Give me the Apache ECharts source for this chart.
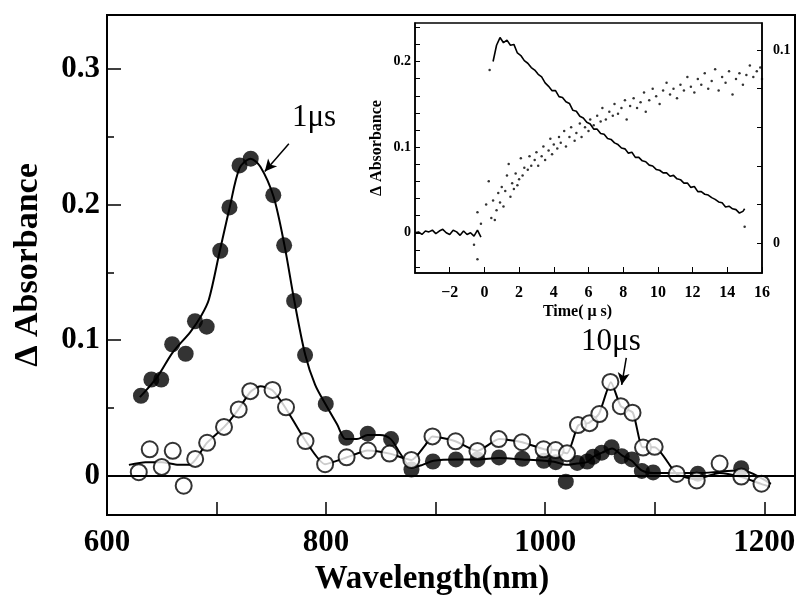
<!DOCTYPE html>
<html>
<head>
<meta charset="utf-8">
<script src="https://cdn.jsdelivr.net/npm/echarts@6/dist/echarts.min.js"></script>
<style>
  html, body { margin: 0; padding: 0; background: #fff; }
  #main { width: 801px; height: 604px; }
</style>
</head>
<body>
<div id="main"></div>
<script>
// main spectra: 1 us (filled) and 10 us (open)
var wlFilled = [631, 640.5, 649.5, 659.5, 671.8, 680.3, 691, 703.4, 711.8, 721, 731.2, 751.8, 761.7, 770.8, 780.8, 799.7, 818.4, 838, 859.3, 877.9, 897.5, 918.5, 938.2, 957.8, 979.1, 998.7, 1009.6, 1018.8, 1029.2, 1038.3, 1043.7, 1051.6, 1060.6, 1069.8, 1079.1, 1088.2, 1098.5, 1139.3, 1178.9];
var absFilled = [0.059, 0.071, 0.071, 0.097, 0.090, 0.114, 0.110, 0.166, 0.198, 0.229, 0.234, 0.207, 0.170, 0.129, 0.089, 0.053, 0.028, 0.031, 0.027, 0.0045, 0.0105, 0.012, 0.012, 0.0135, 0.0125, 0.011, 0.010, -0.0044, 0.0094, 0.0105, 0.014, 0.017, 0.021, 0.0144, 0.012, 0.0035, 0.0024, 0.0015, 0.0055];

var wlOpen = [629, 639, 650, 660, 670, 680.5, 691.4, 706.8, 720.2, 730.8, 751.1, 763.4, 781.2, 799.1, 818.7, 838.3, 857.9, 877.8, 897.1, 918.2, 938.1, 957.5, 978.9, 998.5, 1009.5, 1019.9, 1029.9, 1040.5, 1049.4, 1059.5, 1069, 1079.7, 1089.3, 1099.9, 1120, 1138.3, 1159.2, 1179, 1197.4];
var absOpen = [0.0026, 0.0195, 0.0065, 0.0184, -0.0074, 0.0124, 0.0243, 0.036, 0.0489, 0.0624, 0.0633, 0.0505, 0.0256, 0.0085, 0.0136, 0.0186, 0.0163, 0.0116, 0.029, 0.0254, 0.0183, 0.027, 0.0247, 0.0195, 0.0189, 0.0165, 0.0374, 0.0388, 0.0455, 0.0692, 0.0513, 0.0465, 0.0208, 0.0213, 0.0013, -0.0035, 0.009, -0.0006, -0.0059];

// fitted curves drawn through the points
var wlFitFilled = [630, 646, 660, 676, 686, 693, 703, 712, 721, 731, 740, 752, 762, 771, 781, 790, 800, 810, 818, 828, 838, 849, 859, 868, 878, 888, 898, 918, 938, 958, 979, 999, 1010, 1019, 1029, 1038, 1044, 1052, 1061, 1070, 1079, 1088, 1099, 1120, 1139, 1160, 1179, 1206];
var absFitFilled = [0.058, 0.073, 0.091, 0.106, 0.118, 0.130, 0.166, 0.198, 0.227, 0.234, 0.228, 0.206, 0.170, 0.129, 0.089, 0.067, 0.052, 0.038, 0.027, 0.027, 0.030, 0.030, 0.027, 0.016, 0.006, 0.008, 0.011, 0.012, 0.012, 0.013, 0.012, 0.011, 0.010, 0.008, 0.009, 0.010, 0.014, 0.017, 0.020, 0.015, 0.011, 0.004, 0.002, 0.002, 0.002, 0.003, 0.004, -0.006];

var wlFitOpen = [620, 635, 650, 665, 675, 681, 691, 707, 720, 731, 740, 751, 763, 781, 799, 819, 838, 858, 878, 890, 897, 918, 938, 958, 979, 999, 1010, 1020, 1030, 1040, 1049, 1060, 1069, 1080, 1089, 1100, 1120, 1138, 1159, 1179, 1197, 1205];
var absFitOpen = [0.008, 0.010, 0.010, 0.008, 0.008, 0.012, 0.024, 0.036, 0.049, 0.062, 0.066, 0.063, 0.050, 0.026, 0.0085, 0.0136, 0.0186, 0.0163, 0.0116, 0.022, 0.029, 0.0254, 0.0183, 0.027, 0.0247, 0.0195, 0.019, 0.0165, 0.037, 0.039, 0.0455, 0.069, 0.0513, 0.0465, 0.021, 0.021, 0.0013, -0.0025, 0.002, -0.001, -0.006, -0.008];

// inset: decay trace (left axis) and rise (right axis)
var tBase = [-4.0, -3.8, -3.6, -3.4, -3.2, -3.0, -2.8, -2.6, -2.4, -2.2, -2.0, -1.8, -1.6, -1.4, -1.2, -1.0, -0.8, -0.6, -0.4, -0.2];
var vBase = [0.000, 0.001, -0.002, 0.002, 0.001, 0.003, -0.001, 0.002, 0.004, 0.000, -0.002, 0.003, 0.001, -0.003, 0.002, -0.002, 0.000, -0.004, 0.003, -0.005];
var tDecay = [0.5, 0.7, 0.9, 1.1, 1.3, 1.5, 1.7, 1.9, 2.1, 2.3, 2.5, 2.7, 2.9, 3.1, 3.3, 3.5, 3.7, 3.9, 4.1, 4.3, 4.5, 4.7, 4.9, 5.1, 5.3, 5.5, 5.7, 5.9, 6.1, 6.3, 6.5, 6.7, 6.9, 7.1, 7.3, 7.5, 7.7, 7.9, 8.1, 8.3, 8.5, 8.7, 8.9, 9.1, 9.3, 9.5, 9.7, 9.9, 10.1, 10.3, 10.5, 10.7, 10.9, 11.1, 11.3, 11.5, 11.7, 11.9, 12.1, 12.3, 12.5, 12.7, 12.9, 13.1, 13.3, 13.5, 13.7, 13.9, 14.1, 14.3, 14.5, 14.7, 14.9, 15.0];
var vDecay = [0.200, 0.219, 0.228, 0.222, 0.225, 0.219, 0.220, 0.210, 0.207, 0.201, 0.198, 0.193, 0.190, 0.185, 0.182, 0.175, 0.171, 0.166, 0.166, 0.159, 0.158, 0.153, 0.151, 0.143, 0.142, 0.136, 0.134, 0.129, 0.127, 0.121, 0.121, 0.116, 0.115, 0.110, 0.109, 0.105, 0.103, 0.099, 0.098, 0.093, 0.094, 0.088, 0.088, 0.084, 0.083, 0.079, 0.078, 0.074, 0.073, 0.070, 0.070, 0.066, 0.067, 0.063, 0.062, 0.058, 0.058, 0.053, 0.054, 0.048, 0.048, 0.045, 0.044, 0.041, 0.039, 0.036, 0.035, 0.030, 0.031, 0.028, 0.027, 0.023, 0.025, 0.028];
var tDots = [-0.6, -0.4, 0.3, 15.0];
var vDots = [-0.014, -0.031, 0.190, 0.007];
var tRise = [-0.4, -0.2, 0.1, 0.25, 0.4, 0.5, 0.6, 0.7, 0.8, 0.9, 1.0, 1.1, 1.2, 1.3, 1.4, 1.5, 1.6, 1.7, 1.8, 1.9, 2.0, 2.1, 2.2, 2.3, 2.5, 2.6, 2.7, 2.9, 3.0, 3.1, 3.3, 3.4, 3.5, 3.7, 3.8, 3.9, 4.0, 4.2, 4.3, 4.4, 4.6, 4.7, 4.9, 5.0, 5.2, 5.3, 5.5, 5.6, 5.8, 6.0, 6.1, 6.3, 6.5, 6.7, 6.8, 7.0, 7.2, 7.4, 7.5, 7.7, 7.9, 8.1, 8.2, 8.4, 8.6, 8.8, 9.0, 9.2, 9.3, 9.5, 9.7, 9.9, 10.1, 10.3, 10.5, 10.7, 10.9, 11.1, 11.3, 11.5, 11.7, 11.9, 12.1, 12.3, 12.5, 12.7, 12.9, 13.1, 13.3, 13.5, 13.7, 13.9, 14.1, 14.3, 14.5, 14.7, 14.9, 15.1, 15.3, 15.5, 15.7, 15.9, 16.0];
var vRise = [0.016, 0.010, 0.020, 0.032, 0.013, 0.022, 0.012, 0.017, 0.026, 0.021, 0.029, 0.019, 0.027, 0.035, 0.041, 0.024, 0.031, 0.028, 0.036, 0.030, 0.033, 0.044, 0.035, 0.039, 0.038, 0.045, 0.040, 0.043, 0.047, 0.040, 0.045, 0.050, 0.043, 0.048, 0.054, 0.046, 0.051, 0.049, 0.055, 0.052, 0.058, 0.050, 0.055, 0.060, 0.053, 0.057, 0.062, 0.055, 0.060, 0.058, 0.064, 0.061, 0.066, 0.063, 0.070, 0.064, 0.068, 0.066, 0.072, 0.067, 0.070, 0.074, 0.064, 0.071, 0.075, 0.070, 0.073, 0.078, 0.068, 0.074, 0.080, 0.076, 0.072, 0.079, 0.083, 0.077, 0.080, 0.075, 0.082, 0.079, 0.086, 0.081, 0.078, 0.085, 0.082, 0.088, 0.080, 0.084, 0.090, 0.079, 0.086, 0.083, 0.089, 0.077, 0.085, 0.088, 0.082, 0.087, 0.092, 0.086, 0.089, 0.091, 0.085];

// tick / label values
var yMajor = [0, 0.1, 0.2, 0.3];
var yMinor = [0.05, 0.15, 0.25];
var xTicks = [700, 800, 900, 1000, 1100, 1200];
var xLabels = [600, 800, 1000, 1200];
var tLabels = [-2, 0, 2, 4, 6, 8, 10, 12, 14, 16];
var inLeftLabels = [0, 0.1, 0.2];
var inLeftTicks = [-0.04, -0.02, 0, 0.02, 0.04, 0.06, 0.08, 0.1, 0.12, 0.14, 0.16, 0.18, 0.2, 0.22, 0.24];
var inRightLabels = [0, 0.1];
var inRightTicks = [0, 0.02, 0.04, 0.06, 0.08, 0.1];

function zip(a, b) { return a.map(function (v, i) { return [v, b[i]]; }); }

var FONT = 'Liberation Serif';
var chart = echarts.init(document.getElementById('main'));

var option = {
  animation: false,
  grid: [
    { left: 107, top: 15, width: 688, height: 500, show: true, borderColor: '#000', borderWidth: 2, backgroundColor: 'transparent' },
    { left: 415, top: 23, width: 347, height: 250, show: true, borderColor: '#000', borderWidth: 1.5, backgroundColor: '#fff' }
  ],
  xAxis: [
    {
      gridIndex: 0, type: 'value', min: 600, max: 1228,
      name: 'Wavelength(nm)', nameLocation: 'middle', nameGap: 48,
      nameTextStyle: { fontFamily: FONT, fontWeight: 'bold', fontSize: 33, color: '#000', padding: [0, 38, 0, 0] },
      axisLine: { onZero: false, lineStyle: { color: '#000', width: 2 } },
      axisTick: { inside: true, length: 13, customValues: xTicks, lineStyle: { color: '#000', width: 1.5 } },
      axisLabel: {
        customValues: xLabels, margin: 12, fontFamily: FONT, fontWeight: 'bold', fontSize: 31, color: '#000',
        formatter: function (v) { return String(v); }
      },
      splitLine: { show: false }
    },
    {
      gridIndex: 1, type: 'value', min: -4, max: 16,
      name: 'Time( μ s)', nameLocation: 'middle', nameGap: 31,
      nameTextStyle: { fontFamily: FONT, fontWeight: 'bold', fontSize: 16, color: '#000', padding: [0, 22, 0, 0] },
      axisLine: { onZero: false, lineStyle: { color: '#000', width: 1.5 } },
      axisTick: { inside: true, length: 6, customValues: tLabels, lineStyle: { color: '#000' } },
      axisLabel: {
        customValues: tLabels, margin: 12, fontFamily: FONT, fontWeight: 'bold', fontSize: 16, color: '#000',
        formatter: function (v) { return v < 0 ? '\u2212' + (-v) : String(v); }
      },
      splitLine: { show: false }
    }
  ],
  yAxis: [
    {
      gridIndex: 0, type: 'value', min: -0.029, max: 0.34,
      name: 'Δ Absorbance', nameLocation: 'middle', nameGap: 62,
      nameTextStyle: { fontFamily: FONT, fontWeight: 'bold', fontSize: 34, color: '#000' },
      axisLine: { onZero: false, lineStyle: { color: '#000', width: 2 } },
      axisTick: { inside: true, length: 14, customValues: yMajor, lineStyle: { color: '#000', width: 1.5 } },
      axisLabel: { customValues: yMajor, margin: 7, fontFamily: FONT, fontWeight: 'bold', fontSize: 31, color: '#000' },
      splitLine: { show: false }
    },
    {
      gridIndex: 0, type: 'value', min: -0.029, max: 0.34, position: 'left',
      axisLine: { show: false, onZero: false },
      axisTick: { inside: true, length: 7, customValues: yMinor, lineStyle: { color: '#000', width: 1.5 } },
      axisLabel: { show: false },
      splitLine: { show: false }
    },
    {
      gridIndex: 1, type: 'value', min: -0.047, max: 0.245,
      name: 'Δ Absorbance', nameLocation: 'middle', nameGap: 30,
      nameTextStyle: { fontFamily: FONT, fontWeight: 'bold', fontSize: 16, color: '#000' },
      axisLine: { onZero: false, lineStyle: { color: '#000', width: 1.5 } },
      axisTick: { inside: true, length: 5, customValues: inLeftTicks, lineStyle: { color: '#000' } },
      axisLabel: { customValues: inLeftLabels, margin: 4, fontFamily: FONT, fontWeight: 'bold', fontSize: 14, color: '#000' },
      splitLine: { show: false }
    },
    {
      gridIndex: 1, type: 'value', min: -0.0155, max: 0.114, position: 'right',
      axisLine: { show: true, onZero: false, lineStyle: { color: '#000', width: 1.5 } },
      axisTick: { inside: true, length: 5, customValues: inRightTicks, lineStyle: { color: '#000' } },
      axisLabel: { customValues: inRightLabels, margin: 11, fontFamily: FONT, fontWeight: 'bold', fontSize: 14, color: '#000' },
      splitLine: { show: false }
    }
  ],
  series: [
    {
      name: 'fit 1us', type: 'line', xAxisIndex: 0, yAxisIndex: 0,
      data: zip(wlFitFilled, absFitFilled), smooth: 0.3, showSymbol: false,
      lineStyle: { color: '#000', width: 2 }, z: 2,
      markLine: {
        silent: true, symbol: ['none', 'arrow'], symbolSize: [9, 12],
        lineStyle: { color: '#000', width: 1.5, type: 'solid' }, label: { show: false },
        data: [
          [{ coord: [766, 0.245] }, { coord: [744, 0.2245] }],
          [{ coord: [1074, 0.087] }, { coord: [1069.8, 0.067] }]
        ]
      },
      markPoint: {
        silent: true, symbol: 'rect', symbolSize: 1, itemStyle: { color: 'rgba(0,0,0,0)' },
        label: { show: true, position: 'inside', fontFamily: FONT, fontSize: 31, color: '#000' },
        data: [
          { coord: [789, 0.264], label: { formatter: '1μs' } },
          { coord: [1060, 0.099], label: { formatter: '10μs' } }
        ]
      }
    },
    {
      name: 'fit 10us', type: 'line', xAxisIndex: 0, yAxisIndex: 0,
      data: zip(wlFitOpen, absFitOpen), smooth: 0.2, showSymbol: false,
      lineStyle: { color: '#000', width: 2 }, z: 2,
      markLine: {
        silent: true, symbol: 'none', label: { show: false },
        lineStyle: { color: '#000', width: 2, type: 'solid' },
        data: [{ yAxis: 0 }]
      }
    },
    {
      name: '1us', type: 'scatter', xAxisIndex: 0, yAxisIndex: 0,
      data: zip(wlFilled, absFilled), symbol: 'circle', symbolSize: 16,
      itemStyle: { color: '#000' }, z: 3
    },
    {
      name: '10us', type: 'scatter', xAxisIndex: 0, yAxisIndex: 0,
      data: zip(wlOpen, absOpen), symbol: 'circle', symbolSize: 16,
      itemStyle: { color: '#fff', borderColor: '#000', borderWidth: 2 }, z: 4
    },
    {
      name: 'baseline', type: 'line', xAxisIndex: 1, yAxisIndex: 2,
      data: zip(tBase, vBase), showSymbol: false,
      lineStyle: { color: '#000', width: 1.6 }, z: 5
    },
    {
      name: 'decay', type: 'line', xAxisIndex: 1, yAxisIndex: 2,
      data: zip(tDecay, vDecay), showSymbol: false,
      lineStyle: { color: '#000', width: 1.6 }, z: 5
    },
    {
      name: 'dots', type: 'scatter', xAxisIndex: 1, yAxisIndex: 2,
      data: zip(tDots, vDots), symbolSize: 2.5, itemStyle: { color: '#000' }, z: 5
    },
    {
      name: 'rise', type: 'scatter', xAxisIndex: 1, yAxisIndex: 3,
      data: zip(tRise, vRise), symbolSize: 2.5, itemStyle: { color: '#000' }, z: 5
    }
  ]
};

chart.setOption(option);
</script>
</body>
</html>
